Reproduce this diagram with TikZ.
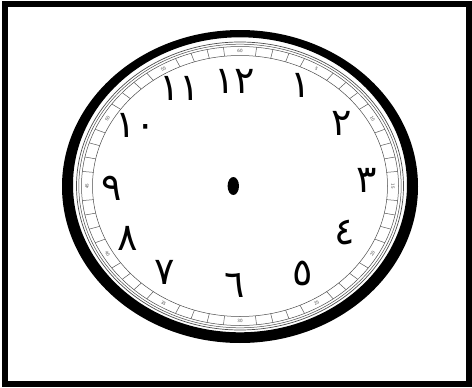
\documentclass[tikz,border=0pt]{standalone}
\usepackage{fontspec}
\usetikzlibrary{calc}
\newfontfamily\arabicfont[Script=Arabic]{DejaVu Sans}
\begin{document}
\begin{tikzpicture}[x=1pt,y=-1pt,
  hour/.style={font=\arabicfont\fontsize{38}{38}\selectfont, inner sep=0pt},
  minlab/.style={font=\sffamily\fontsize{4.8}{4.8}\selectfont, text=black!70, inner sep=0pt},
  ringline/.style={draw=black!70, line width=0.5pt},
  tick/.style={draw=black!65, line width=0.5pt}]
\useasboundingbox (0,0) rectangle (472,388);
\fill[white] (0,0) rectangle (472,388);
% frame
\draw[line width=6pt] (5,4) rectangle (469,383.5);
% clock case
\coordinate (c) at (240,186);
\fill[even odd rule] (240,186.5) ellipse [x radius=178, y radius=156.5]
                     (240,184.8) ellipse [x radius=167, y radius=147.5];
\draw[ringline,line width=0.7pt] (c) ellipse [x radius=163.5, y radius=144];
\draw[ringline] (c) ellipse [x radius=161.2, y radius=141.8];
\draw[ringline] (c) ellipse [x radius=158.5, y radius=139.5];
\draw[ringline] (c) ellipse [x radius=147.5, y radius=130.5];
% minute ticks and labels
\foreach \m in {0,...,59}{
  \pgfmathsetmacro{\t}{90-6*\m}
  \pgfmathparse{int(mod(\m,5))}
  \ifnum\pgfmathresult=0
    \pgfmathsetmacro{\lab}{int(\m==0 ? 60 : \m)}
    \pgfmathsetmacro{\rot}{(sin(\t)<-0.01) ? \t+90 : \t-90}
    \node[minlab, rotate=\rot] (m\m) at ($(c)+({153*cos(\t)},{-135*sin(\t)})$) {\lab};
  \else
    \draw[tick] ($(c)+({147.5*cos(\t)},{-130.5*sin(\t)})$) -- ($(c)+({158.5*cos(\t)},{-139.5*sin(\t)})$);
  \fi
}
% hour numerals
\node[hour] (h12) at (235,81) {١٢};
\node[hour] (h1) at (301,85) {١};
\node[hour] (h2) at (342,123) {٢};
\node[hour] (h3) at (367,180) {٣};
\node[hour] (h4) at (345,233) {٤};
\node[hour] (h5) at (303,273) {٥};
\node[hour] (h6) at (235,285) {٦};
\node[hour] (h7) at (165,272) {٧};
\node[hour] (h8) at (128,238) {٨};
\node[hour] (h9) at (112,188) {٩};
\node[hour] (h10) at (136,125) {١٠};
\node[hour] (h11) at (180,88) {١١};
% center pivot
\fill (233.3,186) ellipse [x radius=5.7, y radius=9];
\end{tikzpicture}
\end{document}
